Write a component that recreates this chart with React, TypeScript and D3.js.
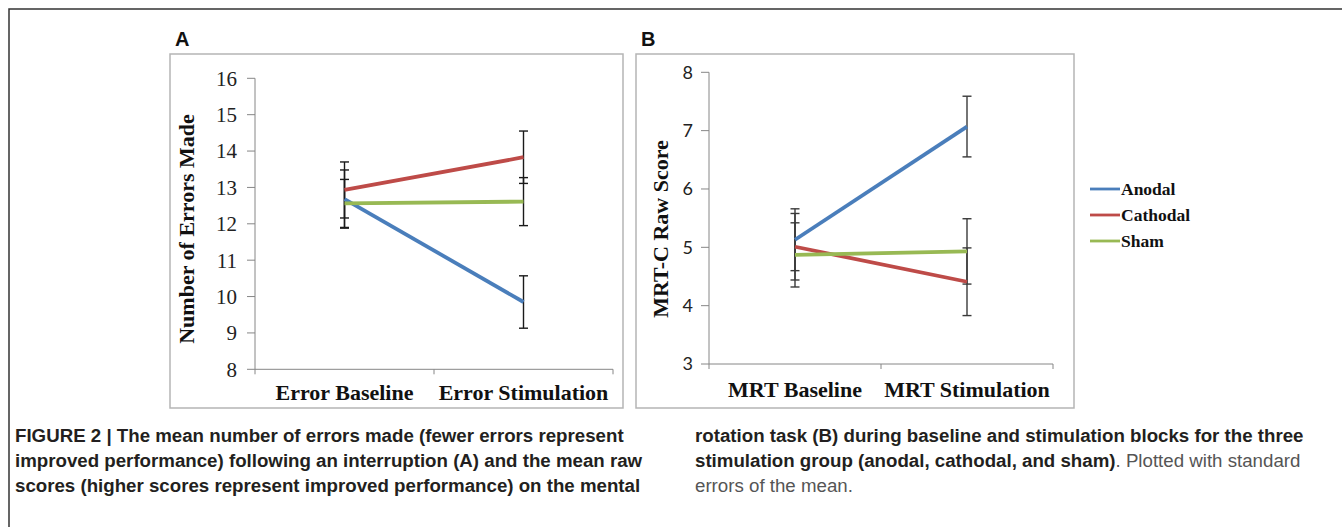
import React from "react";
import * as d3 from "d3";

// ---------- data ----------
const groups = ["Anodal", "Cathodal", "Sham"];
const groupColors = ["#4a7ebb", "#be4b48", "#98b954"];

const conditionsA = ["Error Baseline", "Error Stimulation"];
const yTicksA = [8, 9, 10, 11, 12, 13, 14, 15, 16];
const anodalA = [12.68, 9.85];
const cathodalA = [12.93, 13.83];
const shamA = [12.56, 12.61];
const anodalSeA = [0.8, 0.72];
const cathodalSeA = [0.77, 0.72];
const shamSeA = [0.66, 0.66];

const conditionsB = ["MRT Baseline", "MRT Stimulation"];
const yTicksB = [3, 4, 5, 6, 7, 8];
const anodalB = [5.13, 7.07];
const cathodalB = [5.01, 4.41];
const shamB = [4.87, 4.93];
const anodalSeB = [0.53, 0.52];
const cathodalSeB = [0.57, 0.58];
const shamSeB = [0.55, 0.56];

const captionLeft = [
  "FIGURE 2 | The mean number of errors made (fewer errors represent",
  "improved performance) following an interruption (A) and the mean raw",
  "scores (higher scores represent improved performance) on the mental",
];
const captionRightBold1 = "rotation task (B) during baseline and stimulation blocks for the three";
const captionRightBold2 = "stimulation group (anodal, cathodal, and sham)";
const captionRightNormal2 = ". Plotted with standard";
const captionRightNormal3 = "errors of the mean.";

const SERIF = "'Liberation Serif', 'Times New Roman', serif";
const SANS = "'Liberation Sans', Arial, Helvetica, sans-serif";

type PanelCfg = {
  letter: string;
  box: [number, number, number, number];
  x0: number;
  x1: number;
  yTop: number;
  yBot: number;
  domain: [number, number];
  ticks: number[];
  conditions: string[];
  series: number[][];
  ses: number[][];
  yLabel: string;
  yLabelX: number;
  yLabelY: number;
  tickFont: string;
  tickSize: number;
  tickLabelX: number;
  xLabelY: number;
  errColor: string;
};

function Panel({ c }: { c: PanelCfg }) {
  const y = d3.scaleLinear().domain(c.domain).range([c.yBot, c.yTop]);
  const x = d3.scalePoint<string>().domain(c.conditions).range([c.x0, c.x1]).padding(0.5);
  const line = d3
    .line<number>()
    .x((_, i) => x(c.conditions[i]) as number)
    .y((d) => y(d));
  const xTicks = [c.x0, (c.x0 + c.x1) / 2, c.x1];
  const [bx, by, bw, bh] = c.box;
  return (
    <g>
      <text x={bx + 5} y={46} fontFamily={SANS} fontWeight="bold" fontSize={20} fill="#111">
        {c.letter}
      </text>
      <rect x={bx} y={by} width={bw} height={bh} fill="#fff" stroke="#b5b5b5" strokeWidth={1.5} />
      {/* y axis */}
      <line x1={c.x0} x2={c.x0} y1={c.yTop} y2={c.yBot} stroke="#868686" strokeWidth={1} />
      {c.ticks.map((t) => (
        <g key={t}>
          <line x1={c.x0 - 8} x2={c.x0} y1={y(t)} y2={y(t)} stroke="#868686" strokeWidth={1} />
          <text
            x={c.tickLabelX}
            y={y(t)}
            dy="0.35em"
            textAnchor="end"
            fontFamily={c.tickFont}
            fontSize={c.tickSize}
            fill="#222"
          >
            {t}
          </text>
        </g>
      ))}
      {/* x axis */}
      <line x1={c.x0} x2={c.x1} y1={c.yBot} y2={c.yBot} stroke="#868686" strokeWidth={1} />
      {xTicks.map((t, i) => (
        <line key={i} x1={t} x2={t} y1={c.yBot} y2={c.yBot + 5} stroke="#868686" strokeWidth={1} />
      ))}
      {c.conditions.map((cond) => (
        <text
          key={cond}
          x={x(cond)}
          y={c.xLabelY}
          textAnchor="middle"
          fontFamily={SERIF}
          fontWeight="bold"
          fontSize={22}
          fill="#111"
        >
          {cond}
        </text>
      ))}
      <text
        transform={`translate(${c.yLabelX},${c.yLabelY}) rotate(-90)`}
        textAnchor="middle"
        dy="0.35em"
        fontFamily={SERIF}
        fontWeight="bold"
        fontSize={22}
        fill="#111"
      >
        {c.yLabel}
      </text>
      {/* error bars */}
      {c.series.map((s, si) =>
        s.map((v, i) => {
          const cx = x(c.conditions[i]) as number;
          const se = c.ses[si][i];
          const yt = y(v + se);
          const yb = y(v - se);
          return (
            <g key={`${si}-${i}`} stroke={c.errColor} strokeWidth={1.4}>
              <line x1={cx} x2={cx} y1={yt} y2={yb} />
              <line x1={cx - 4.5} x2={cx + 4.5} y1={yt} y2={yt} />
              <line x1={cx - 4.5} x2={cx + 4.5} y1={yb} y2={yb} />
            </g>
          );
        })
      )}
      {/* lines */}
      {c.series.map((s, si) => (
        <path key={si} d={line(s) || ""} fill="none" stroke={groupColors[si]} strokeWidth={3.8} />
      ))}
    </g>
  );
}

export default function App() {
  const panelA: PanelCfg = {
    letter: "A",
    box: [170, 54, 453, 354],
    x0: 255,
    x1: 613,
    yTop: 78.3,
    yBot: 369.3,
    domain: [8, 16],
    ticks: yTicksA,
    conditions: conditionsA,
    series: [anodalA, cathodalA, shamA],
    ses: [anodalSeA, cathodalSeA, shamSeA],
    yLabel: "Number of Errors Made",
    yLabelX: 186,
    yLabelY: 229,
    tickFont: SERIF,
    tickSize: 21,
    tickLabelX: 237,
    xLabelY: 400,
    errColor: "#1a1a1a",
  };
  const panelB: PanelCfg = {
    letter: "B",
    box: [636, 54, 438, 354],
    x0: 709,
    x1: 1053,
    yTop: 72.3,
    yBot: 364,
    domain: [3, 8],
    ticks: yTicksB,
    conditions: conditionsB,
    series: [anodalB, cathodalB, shamB],
    ses: [anodalSeB, cathodalSeB, shamSeB],
    yLabel: "MRT-C Raw Score",
    yLabelX: 660,
    yLabelY: 229,
    tickFont: "Lato, 'Open Sans', sans-serif",
    tickSize: 18,
    tickLabelX: 693,
    xLabelY: 397,
    errColor: "#3a3a3a",
  };

  const legendY = d3.scalePoint<string>().domain(groups).range([189, 241]);
  const capY = d3.scalePoint<string>().domain(["l1", "l2", "l3"]).range([442, 492]);

  return (
    <svg
      width={1342}
      height={527}
      style={{ position: "absolute", left: 0, top: 0, background: "#fff" }}
    >
      <rect x={0} y={0} width={1342} height={527} fill="#fff" />
      <path d="M9,527 V9 H1342" fill="none" stroke="#333" strokeWidth={1.5} />
      <Panel c={panelA} />
      <Panel c={panelB} />
      {groups.map((g, i) => (
        <g key={g}>
          <line
            x1={1090}
            x2={1120}
            y1={legendY(g)}
            y2={legendY(g)}
            stroke={groupColors[i]}
            strokeWidth={2.8}
          />
          <text
            x={1121}
            y={legendY(g)}
            dy="0.35em"
            fontFamily={SERIF}
            fontWeight="bold"
            fontSize={17.5}
            fill="#111"
          >
            {g}
          </text>
        </g>
      ))}
      {captionLeft.map((t, i) => (
        <text
          key={i}
          x={15}
          y={capY(["l1", "l2", "l3"][i])}
          fontFamily={SANS}
          fontWeight="bold"
          fontSize={18.7}
          fill="#231f20"
        >
          {t}
        </text>
      ))}
      <text x={695} y={capY("l1")} fontFamily={SANS} fontWeight="bold" fontSize={18.7} fill="#231f20">
        {captionRightBold1}
      </text>
      <text x={695} y={capY("l2")} fontFamily={SANS} fontSize={18.7} fill="#231f20">
        <tspan fontWeight="bold">{captionRightBold2}</tspan>
        <tspan fill="#555">{captionRightNormal2}</tspan>
      </text>
      <text x={695} y={capY("l3")} fontFamily={SANS} fontSize={18.7} fill="#555">
        {captionRightNormal3}
      </text>
    </svg>
  );
}
